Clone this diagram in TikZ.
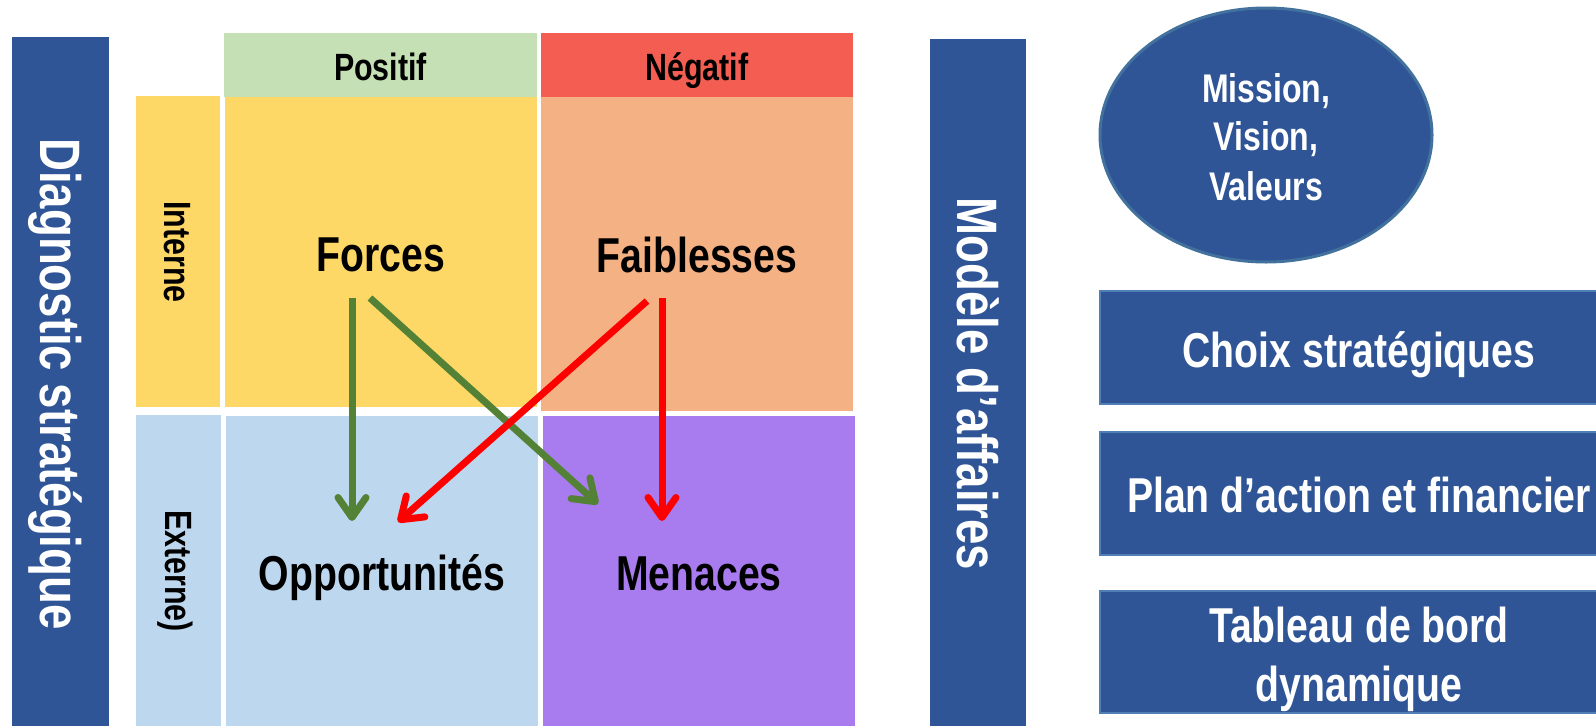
\documentclass[tikz,border=0pt]{standalone}
\usepackage{fontspec}
\setmainfont{Liberation Sans}[FakeStretch=0.8]
\usetikzlibrary{arrows.meta}
\definecolor{dblue}{HTML}{2F5597}
\definecolor{eborder}{HTML}{41719C}
\definecolor{bborder}{HTML}{4F7FB4}
\definecolor{hgreen}{HTML}{C5E0B4}
\definecolor{hred}{HTML}{F35D52}
\definecolor{cyellow}{HTML}{FDD866}
\definecolor{cpeach}{HTML}{F4B183}
\definecolor{cblue}{HTML}{BDD7EE}
\definecolor{cpurple}{HTML}{A87BEE}
\definecolor{agreen}{HTML}{538135}
\definecolor{ared}{HTML}{FF0000}
\begin{document}
\begin{tikzpicture}[x=1pt,y=-1pt,
  txt/.style={anchor=base,inner sep=0pt,text=black},
  big/.style={txt,font=\bfseries\fontsize{49}{59}\selectfont},
  head/.style={txt,font=\bfseries\fontsize{38}{46}\selectfont},
  side/.style={txt,rotate=-90,font=\bfseries\fontsize{38}{46}\selectfont},
  bar/.style={txt,rotate=-90,text=white,font=\bfseries\fontsize{57}{68}\selectfont},
  wtxt/.style={txt,text=white,font=\bfseries\fontsize{49}{59}\selectfont},
  etxt/.style={txt,text=white,font=\bfseries\fontsize{40}{48}\selectfont},
  box/.style={fill=dblue,draw=bborder,line width=2pt},
  arr/.style={line width=7pt,-{Straight Barb[length=20pt,width=28pt,round]}},
]
\useasboundingbox (0,0) rectangle (1596,726);
\clip (0,0) rectangle (1596,726);
% left and right bars
\fill[dblue] (12,37) rectangle (109,726);
\fill[dblue] (930,39) rectangle (1026,726);
% headers
\fill[hgreen] (224,33) rectangle (537,97);
\fill[hred] (541,33) rectangle (853,97);
% cells
\fill[cyellow] (136,96) rectangle (220,407);
\fill[cyellow] (225,97) rectangle (537,407);
\fill[cpeach] (541,97) rectangle (853,411);
\fill[cblue] (136,415) rectangle (221,726);
\fill[cblue] (226,416) rectangle (538,726);
\fill[cpurple] (543,416) rectangle (855,726);
% ellipse and boxes
\filldraw[fill=dblue,draw=eborder,line width=3pt] (1266,135) ellipse [x radius=166pt,y radius=127pt];
\path[box] (1100,291) rectangle (1625,404);
\path[box] (1100,432) rectangle (1625,555);
\path[box] (1100,591) rectangle (1625,713);
% texts
\node[bar] (diag) at (40,384) {Diagnostic stratégique};
\node[bar] (modele) at (957,384) {Modèle d’affaires};
\node[head] (pos) at (380.5,80) {Positif};
\node[head] (neg) at (697,80) {Négatif};
\node[side] (int) at (164,252) {Interne};
\node[side] (ext) at (165,571) {Externe)};
\node[big] (forces) at (381,271) {Forces};
\node[big] (faib) at (697,272) {Faiblesses};
\node[big] (opp) at (382,590) {Opportunités};
\node[big] (men) at (699,590) {Menaces};
\node[etxt] (mis) at (1266,102) {Mission,};
\node[etxt] (vis) at (1266,150) {Vision,};
\node[etxt] (val) at (1266,200) {Valeurs};
\node[wtxt] (choix) at (1359,367) {Choix stratégiques};
\node[wtxt] (plan) at (1359,512) {Plan d’action et financier};
\node[wtxt] (tab1) at (1359,642) {Tableau de bord};
\node[wtxt] (tab2) at (1359,701) {dynamique};
% arrow ends
\coordinate (g1s) at (352,298); \coordinate (g1e) at (352,521);
\coordinate (g2s) at (370,298); \coordinate (g2e) at (598,504);
\coordinate (r1s) at (647,301); \coordinate (r1e) at (398,522);
\coordinate (r2s) at (662,298); \coordinate (r2e) at (662,521);
\draw[arr,agreen] (g1s) -- (g1e);
\draw[arr,agreen] (g2s) -- (g2e);
\draw[arr,ared] (r1s) -- (r1e);
\draw[arr,ared] (r2s) -- (r2e);
\end{tikzpicture}
\end{document}
